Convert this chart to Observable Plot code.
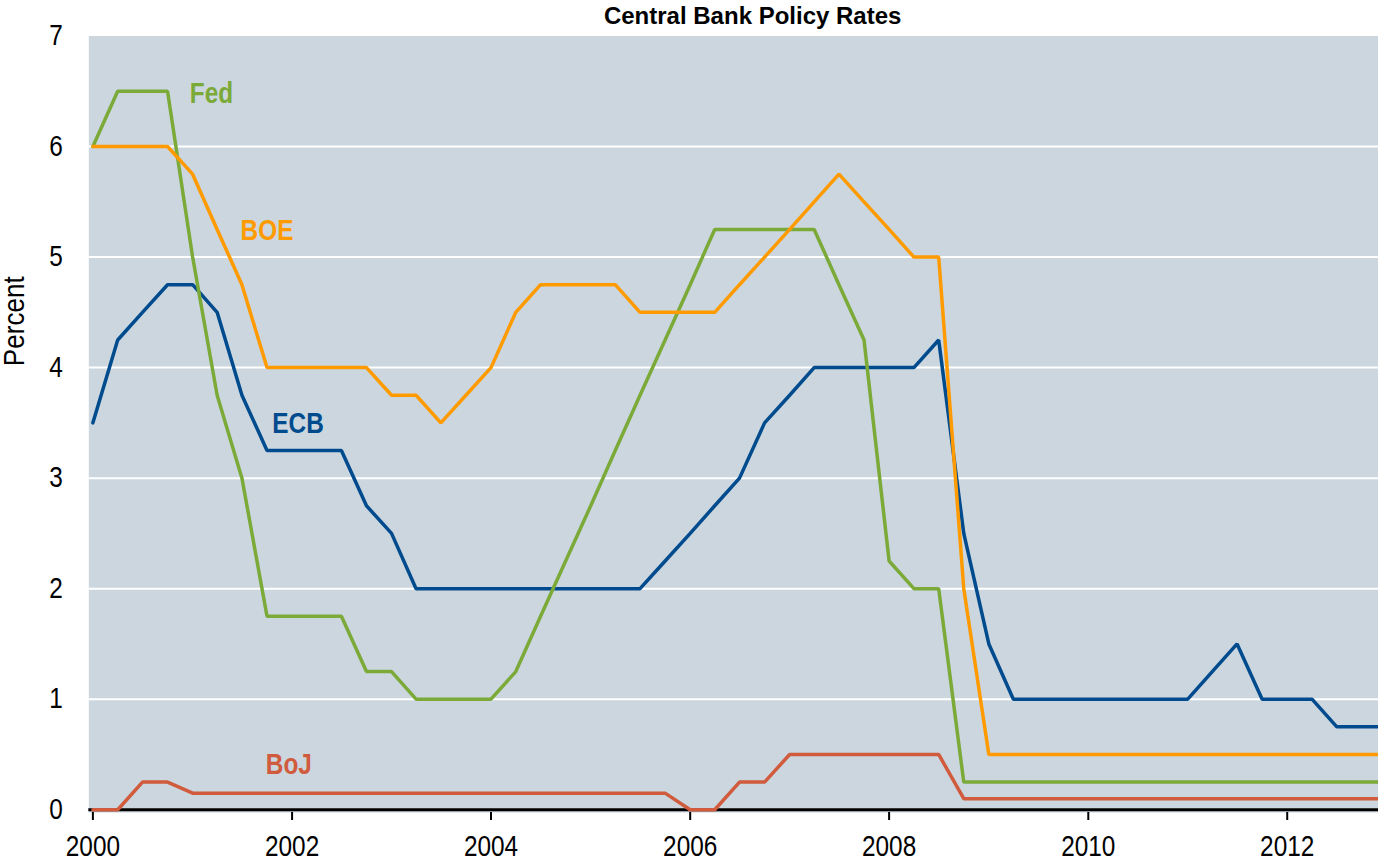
<!DOCTYPE html>
<html>
<head>
<meta charset="utf-8">
<script src="https://cdn.jsdelivr.net/npm/d3@7"></script>
<script src="https://cdn.jsdelivr.net/npm/@observablehq/plot@0.6"></script>
<style>
  body { margin: 0; background: #ffffff; }
  #chart svg { overflow: visible; display: block; }
</style>
</head>
<body>
<div id="chart"></div>
<script>
// Quarterly observations (end-of-quarter policy rate, plotted at quarter start)
const quarters = [
  "2000-01","2000-04","2000-07","2000-10",
  "2001-01","2001-04","2001-07","2001-10",
  "2002-01","2002-04","2002-07","2002-10",
  "2003-01","2003-04","2003-07","2003-10",
  "2004-01","2004-04","2004-07","2004-10",
  "2005-01","2005-04","2005-07","2005-10",
  "2006-01","2006-04","2006-07","2006-10",
  "2007-01","2007-04","2007-07","2007-10",
  "2008-01","2008-04","2008-07","2008-10",
  "2009-01","2009-04","2009-07","2009-10",
  "2010-01","2010-04","2010-07","2010-10",
  "2011-01","2011-04","2011-07","2011-10",
  "2012-01","2012-04","2012-07","2012-10",
  "2013-01"
];

const fed = [
  6, 6.5, 6.5, 6.5,
  5, 3.75, 3, 1.75,
  1.75, 1.75, 1.75, 1.25,
  1.25, 1, 1, 1,
  1, 1.25, 1.75, 2.25,
  2.75, 3.25, 3.75, 4.25,
  4.75, 5.25, 5.25, 5.25,
  5.25, 5.25, 4.75, 4.25,
  2.25, 2, 2, 0.25,
  0.25, 0.25, 0.25, 0.25,
  0.25, 0.25, 0.25, 0.25,
  0.25, 0.25, 0.25, 0.25,
  0.25, 0.25, 0.25, 0.25,
  0.25
];

const boe = [
  6, 6, 6, 6,
  5.75, 5.25, 4.75, 4,
  4, 4, 4, 4,
  3.75, 3.75, 3.5, 3.75,
  4, 4.5, 4.75, 4.75,
  4.75, 4.75, 4.5, 4.5,
  4.5, 4.5, 4.75, 5,
  5.25, 5.5, 5.75, 5.5,
  5.25, 5, 5, 2,
  0.5, 0.5, 0.5, 0.5,
  0.5, 0.5, 0.5, 0.5,
  0.5, 0.5, 0.5, 0.5,
  0.5, 0.5, 0.5, 0.5,
  0.5
];

const ecb = [
  3.5, 4.25, 4.5, 4.75,
  4.75, 4.5, 3.75, 3.25,
  3.25, 3.25, 3.25, 2.75,
  2.5, 2, 2, 2,
  2, 2, 2, 2,
  2, 2, 2, 2.25,
  2.5, 2.75, 3, 3.5,
  3.75, 4, 4, 4,
  4, 4, 4.25, 2.5,
  1.5, 1, 1, 1,
  1, 1, 1, 1,
  1, 1.25, 1.5, 1,
  1, 1, 0.75, 0.75,
  0.75
];

const boj = [
  0, 0, 0.25, 0.25,
  0.15, 0.15, 0.15, 0.15,
  0.15, 0.15, 0.15, 0.15,
  0.15, 0.15, 0.15, 0.15,
  0.15, 0.15, 0.15, 0.15,
  0.15, 0.15, 0.15, 0.15,
  0, 0, 0.25, 0.25,
  0.5, 0.5, 0.5, 0.5,
  0.5, 0.5, 0.5, 0.1,
  0.1, 0.1, 0.1, 0.1,
  0.1, 0.1, 0.1, 0.1,
  0.1, 0.1, 0.1, 0.1,
  0.1, 0.1, 0.1, 0.1,
  0.1
];

const seriesNames  = ["Fed", "BOE", "ECB", "BoJ"];
const seriesColors = ["#7BAA39", "#FF9B00", "#004B8D", "#D15B3D"];
const drawOrder    = ["ECB", "Fed", "BoJ", "BOE"];

// Direct labels (annotation anchors in data coordinates)
const labelDates  = ["2001-03-11", "2001-10-01", "2002-01-23", "2001-12-20"];
const labelValues = [6.48, 5.24, 3.49, 0.41];

const yTicks = [0, 1, 2, 3, 4, 5, 6, 7];
const gridValues = [1, 2, 3, 4, 5, 6];
const xTickYears = ["2000", "2002", "2004", "2006", "2008", "2010", "2012"];
const xDomain = ["1999-12-17", "2012-12-01"];

const titleText = "Central Bank Policy Rates";
const yLabelText = "Percent";

// ---- build tables ----
const parseQ = d3.utcParse("%Y-%m");
const parseD = d3.utcParse("%Y-%m-%d");
const parseY = d3.utcParse("%Y");
const valuesBy = {Fed: fed, BOE: boe, ECB: ecb, BoJ: boj};
const table = drawOrder.flatMap(name =>
  quarters.map((q, i) => ({series: name, date: parseQ(q), value: valuesBy[name][i]}))
);
const labels = seriesNames.map((name, i) => ({
  series: name, date: parseD(labelDates[i]), value: labelValues[i]
}));

const FONT = "'Liberation Sans Narrow', 'Arial Narrow', 'Liberation Sans', Arial, sans-serif";
const BG = "#CBD6DF";

const chart = Plot.plot({
  width: 1378,
  height: 862,
  marginLeft: 88.3,
  marginRight: 0,
  marginTop: 35.5,
  marginBottom: 50,
  style: {fontFamily: FONT, background: "#ffffff", color: "#000000"},
  x: {type: "utc", domain: xDomain.map(parseD), axis: null},
  y: {domain: [-0.025, 7], axis: null},
  color: {domain: seriesNames, range: seriesColors},
  marks: [
    Plot.frame({fill: BG, stroke: null}),
    Plot.ruleY(gridValues, {stroke: "#ffffff", strokeWidth: 2}),
    Plot.ruleY([0], {stroke: "#000000", strokeWidth: 3}),
    Plot.line(table, {
      x: "date", y: "value", z: "series", stroke: "series",
      strokeWidth: 3.5, strokeLinejoin: "miter", clip: true
    }),
    Plot.axisX(xTickYears.map(parseY), {
      tickSize: 8, tickPadding: 15, tickFormat: "%Y",
      fontSize: 29, strokeWidth: 2, stroke: "#000000", fill: "#000000",
      className: "narrow"
    }),
    Plot.axisY(yTicks, {
      tickSize: 0, tickPadding: 26, fontSize: 29, fill: "#000000",
      tickFormat: "d", label: null, className: "narrow"
    }),
    Plot.text(labels, {
      x: "date", y: "value", text: "series", fill: "series",
      fontSize: 29, fontWeight: "bold", className: "narrow"
    }),
    Plot.text([titleText], {
      frameAnchor: "top", dx: 19, dy: -12.5, lineAnchor: "bottom",
      fontSize: 24, fontWeight: "bold", fill: "#000000"
    }),
    Plot.text([yLabelText], {
      frameAnchor: "left", textAnchor: "middle", lineAnchor: "middle",
      dx: -74, dy: -103, rotate: -90,
      fontSize: 30, fill: "#000000", className: "ylabel"
    })
  ]
});

document.getElementById("chart").appendChild(chart);

// Emulate a narrow (condensed) sans face by compressing glyph widths
function condense(selector, factor) {
  d3.select(chart).selectAll(selector).each(function () {
    const len = this.getComputedTextLength();
    if (len > 0) {
      this.setAttribute("textLength", (len * factor).toFixed(2));
      this.setAttribute("lengthAdjust", "spacingAndGlyphs");
    }
  });
}
condense(".narrow text", 0.84);
condense(".ylabel text", 0.87);
</script>
</body>
</html>
